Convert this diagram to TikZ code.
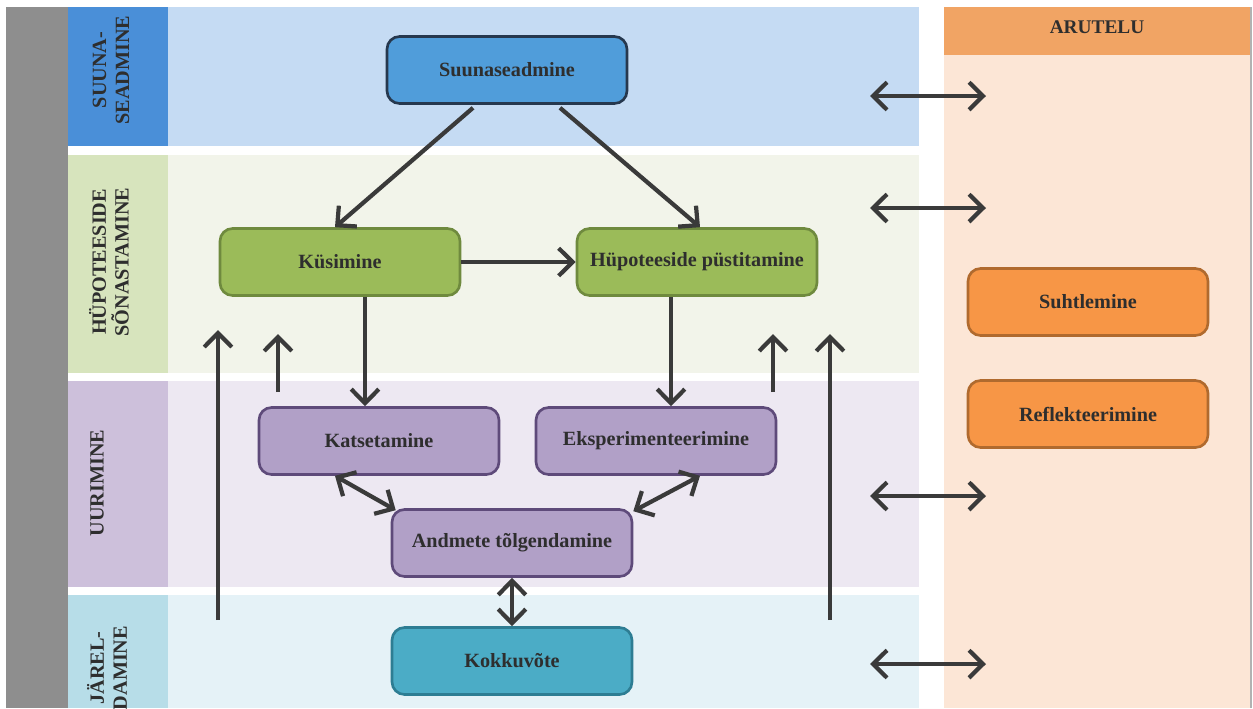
\documentclass[tikz,border=0pt]{standalone}
\usepackage{fontspec}
\setmainfont{Liberation Serif}
\usetikzlibrary{arrows.meta}

\definecolor{barGray}{HTML}{8E8E8E}
\definecolor{lblSuuna}{HTML}{4A8FD8}
\definecolor{laneSuuna}{HTML}{C5DBF3}
\definecolor{lblHyp}{HTML}{D7E4BD}
\definecolor{laneHyp}{HTML}{F2F4EA}
\definecolor{lblUuri}{HTML}{CDC0DB}
\definecolor{laneUuri}{HTML}{EDE8F2}
\definecolor{lblJarel}{HTML}{B7DDE8}
\definecolor{laneJarel}{HTML}{E5F2F7}
\definecolor{aruHead}{HTML}{F1A464}
\definecolor{aruBody}{HTML}{FCE6D6}
\definecolor{fillBlue}{HTML}{509DDA}
\definecolor{edgeBlue}{HTML}{26384E}
\definecolor{fillGreen}{HTML}{9BBB59}
\definecolor{edgeGreen}{HTML}{6F8A3E}
\definecolor{fillPurple}{HTML}{B1A0C7}
\definecolor{edgePurple}{HTML}{5E4A7A}
\definecolor{fillTeal}{HTML}{4BACC6}
\definecolor{edgeTeal}{HTML}{2D7D93}
\definecolor{fillOrange}{HTML}{F79646}
\definecolor{edgeOrange}{HTML}{B06A2E}
\definecolor{arrowDark}{HTML}{3A3A3A}
\definecolor{textDark}{HTML}{2E2E2E}

\begin{document}
\begin{tikzpicture}[x=0.02cm, y=-0.02cm,
  box/.style={draw, line width=1.5pt, rounded corners=0.25cm,
    minimum width=4.8cm, minimum height=1.34cm,
    font=\bfseries\fontsize{11.5}{13}\selectfont, text=textDark},
  lanelabel/.style={rotate=90, align=center, text=textDark,
    font=\bfseries\fontsize{11.5}{13}\selectfont},
  arr/.style={draw=arrowDark, line width=2.4pt,
    -{Straight Barb[length=2.8mm,width=5.5mm]}},
  darr/.style={arr, {Straight Barb[length=2.8mm,width=5.5mm]}-{Straight Barb[length=2.8mm,width=5.5mm]}}]

\useasboundingbox (0,0) rectangle (1253,708);
\fill[white] (0,0) rectangle (1253,708);

% lanes
  \fill[barGray] (6,7) rectangle (68,708);
  \fill[lblSuuna] (68,7) rectangle (168,146);
  \fill[laneSuuna] (168,7) rectangle (919,146);
  \fill[lblHyp] (68,155) rectangle (168,373);
  \fill[laneHyp] (168,155) rectangle (919,373);
  \fill[lblUuri] (68,381) rectangle (168,587);
  \fill[laneUuri] (168,381) rectangle (919,587);
  \fill[lblJarel] (68,595) rectangle (168,708);
  \fill[laneJarel] (168,595) rectangle (919,708);

  \node[lanelabel] (lSuuna) at (111,70) {SUUNA-\\SEADMINE};
  \node[lanelabel] (lHyp) at (109,262) {HÜPOTEESIDE\\SÕNASTAMINE};
  \node[lanelabel] (lUuri) at (97,483) {UURIMINE};
  \begin{scope}
    \clip (68,595) rectangle (168,708);
    \node[lanelabel] (lJarel) at (107,668) {JÄREL-\\DAMINE};
  \end{scope}

% arutelu
  \fill[aruBody] (944,7) rectangle (1251,708);
  \fill[aruHead] (944,7) rectangle (1251,55);
  \draw[gray!60, line width=0.8pt] (1251,7) -- (1251,708);
  \node[font=\bfseries\fontsize{11}{13}\selectfont, text=textDark] (aru) at (1097,27) {ARUTELU};

% boxes
  \node[box, fill=fillBlue, draw=edgeBlue] (suuna) at (507,70) {Suunaseadmine};
  \node[box, fill=fillGreen, draw=edgeGreen] (kys) at (340,262) {Küsimine};
  \node[box, fill=fillGreen, draw=edgeGreen] (hyp) at (697,262) {Hüpoteeside püstitamine};
  \node[box, fill=fillPurple, draw=edgePurple] (kat) at (379,441) {Katsetamine};
  \node[box, fill=fillPurple, draw=edgePurple] (eks) at (656,441) {Eksperimenteerimine};
  \node[box, fill=fillPurple, draw=edgePurple] (and) at (512,543) {Andmete tõlgendamine};
  \node[box, fill=fillTeal, draw=edgeTeal] (kok) at (512,661) {Kokkuvõte};
  \node[box, fill=fillOrange, draw=edgeOrange] (suht) at (1088,302) {Suhtlemine};
  \node[box, fill=fillOrange, draw=edgeOrange] (refl) at (1088,414) {Reflekteerimine};

% arrows
  \draw[arr] ([xshift=-0.68cm,yshift=-0.06cm]suuna.south) -- ([xshift=-0.1cm]kys.north);
  \draw[arr] ([xshift=1.06cm,yshift=-0.06cm]suuna.south) -- ([xshift=0.06cm]hyp.north);
  \draw[arr] (kys.east) -- (hyp.west);
  \draw[arr] ([xshift=0.5cm]kys.south) -- ([xshift=0.5cm]kys.south |- kat.north);
  \draw[arr] ([xshift=-0.52cm]hyp.south) -- ([xshift=-0.52cm]hyp.south |- eks.north);
  \draw[darr] ([xshift=-0.88cm]kat.south) -- ([xshift=0.1cm,yshift=-0.04cm]and.north west);
  \draw[darr] ([xshift=0.88cm]eks.south) -- ([yshift=-0.06cm]and.north east);
  \draw[darr] (and.south) -- (kok.north);

% upward arrows
  \coordinate (upA1) at (218,620); \coordinate (upA2) at (218,330);
  \coordinate (upB1) at (278,392); \coordinate (upB2) at (278,334);
  \coordinate (upC1) at (773,392); \coordinate (upC2) at (773,334);
  \coordinate (upD1) at (830,620); \coordinate (upD2) at (830,334);
  \draw[arr] (upA1) -- (upA2);
  \draw[arr] (upB1) -- (upB2);
  \draw[arr] (upC1) -- (upC2);
  \draw[arr] (upD1) -- (upD2);

% to arutelu
  \coordinate (hA1) at (870,96);  \coordinate (hA2) at (986,96);
  \coordinate (hB1) at (870,208); \coordinate (hB2) at (986,208);
  \coordinate (hC1) at (870,496); \coordinate (hC2) at (986,496);
  \coordinate (hD1) at (870,664); \coordinate (hD2) at (986,664);
  \draw[darr] (hA1) -- (hA2);
  \draw[darr] (hB1) -- (hB2);
  \draw[darr] (hC1) -- (hC2);
  \draw[darr] (hD1) -- (hD2);

\end{tikzpicture}
\end{document}
